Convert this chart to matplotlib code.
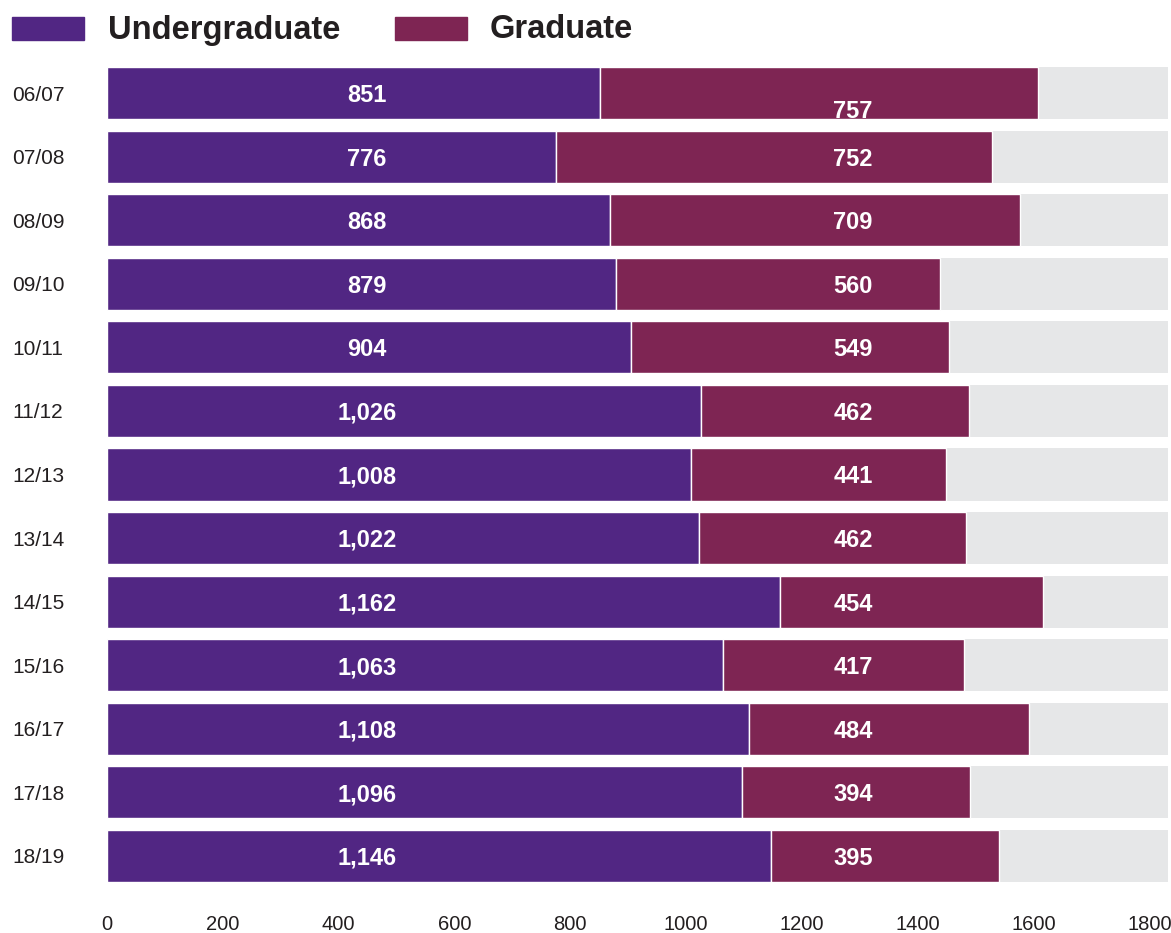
import matplotlib.pyplot as plt
from matplotlib.patches import Rectangle

# enrolment by academic year
years = ['06/07', '07/08', '08/09', '09/10', '10/11', '11/12', '12/13',
         '13/14', '14/15', '15/16', '16/17', '17/18', '18/19']
undergrad = [851, 776, 868, 879, 904, 1026, 1008, 1022, 1162, 1063, 1108, 1096, 1146]
graduate = [757, 752, 709, 560, 549, 462, 441, 462, 454, 417, 484, 394, 395]
x_ticks = [0, 200, 400, 600, 800, 1000, 1200, 1400, 1600, 1800]

purple = '#512683'
maroon = '#7e2553'
grey = '#e6e7e8'
dark = '#231f20'
xmax = 1832

plt.rcParams['font.family'] = ['Liberation Sans', 'DejaVu Sans']

fig = plt.figure(figsize=(11.71, 9.33), dpi=100)
ax = fig.add_axes([107/1171, 1 - 882/933, 1061/1171, 815/933])

ypos = list(range(len(years)))
h = 0.82
ax.barh(ypos, [xmax] * len(years), height=h, color=grey, linewidth=0)
ax.barh(ypos, undergrad, height=h, color=purple, edgecolor='white', linewidth=1)
ax.barh(ypos, graduate, left=undergrad, height=h, color=maroon, edgecolor='white', linewidth=1)

#value labels sit at fixed columns, like the original
for i in ypos:
    ax.text(449, i + 0.14, f'{undergrad[i]:,}', ha='center', va='baseline',
            color='white', fontsize=17, fontweight='bold')
    dy = 0.25 if i == 0 else 0
    ax.text(1288, i + 0.14 + dy, f'{graduate[i]:,}', ha='center', va='baseline',
            color='white', fontsize=17, fontweight='bold')

ax.set_xlim(0, xmax)
ax.set_ylim(len(years) - 1 + 0.41, -0.41)
ax.set_xticks(x_ticks)
ax.set_xticklabels([str(t) for t in x_ticks])
ax.set_yticks(ypos)
ax.set_yticklabels(years, ha='left')
ax.tick_params(axis='x', length=0, pad=24, labelsize=14.5, labelcolor=dark)
ax.tick_params(axis='y', length=0, pad=68, labelsize=15, labelcolor=dark)
for s in ax.spines.values():
    s.set_visible(False)

#legend drawn by hand at the top
fig.add_artist(Rectangle((12/1171, 1 - 40/933), 72/1171, 23/933,
                         transform=fig.transFigure, color=purple))
fig.text(108/1171, 1 - 30/933, 'Undergraduate', ha='left', va='center',
         fontsize=23.5, fontweight='bold', color=dark)
fig.add_artist(Rectangle((395/1171, 1 - 40/933), 72/1171, 23/933,
                         transform=fig.transFigure, color=maroon))
fig.text(490/1171, 1 - 30/933, 'Graduate', ha='left', va='center',
         fontsize=23.5, fontweight='bold', color=dark)

fig.savefig('out.png', dpi=100)
